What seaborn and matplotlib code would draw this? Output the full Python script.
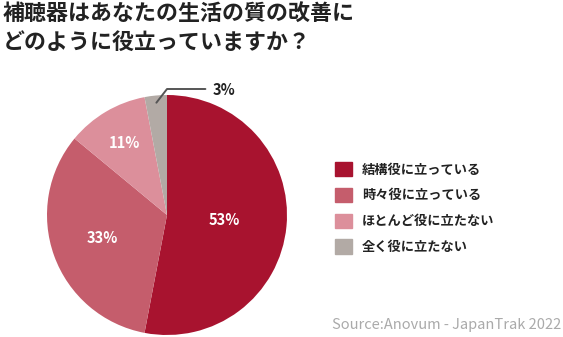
import numpy as np
import matplotlib
matplotlib.use("Agg")
import matplotlib.pyplot as plt
import seaborn as sns

# Data
categories = ["結構役に立っている", "時々役に立っている", "ほとんど役に立たない", "全く役に立たない"]
values = [53, 33, 11, 3]
pct_labels = ["53%", "33%", "11%", "3%"]
colors_hex = ["#A8132F", "#C55D6C", "#DC8F9B", "#B2AAA5"]
title = "補聴器はあなたの生活の質の改善に\nどのように役立っていますか？"
source = "Source:Anovum - JapanTrak 2022"

sns.set_theme(style="white")
plt.rcParams['font.family'] = ['Noto Sans CJK JP', 'DejaVu Sans']

palette = sns.color_palette(colors_hex)

W, H = 563, 337
fig = plt.figure(figsize=(W / 100, H / 100), dpi=100)
fig.patch.set_facecolor("white")

cx, cy, R = 167, 215, 120
ax = fig.add_axes([(cx - R) / W, (H - cy - R) / H, 2 * R / W, 2 * R / H])
wedges, _ = ax.pie(values, colors=palette, startangle=90, counterclock=False,
                   radius=1, wedgeprops=dict(linewidth=0))
ax.set_xlim(-1, 1)
ax.set_ylim(-1, 1)
ax.set_aspect("equal")
ax.axis("off")

# labels inside wedges
label_r = [0.48, 0.57, 0.70]
for i, w in enumerate(wedges[:3]):
    ang = np.deg2rad((w.theta1 + w.theta2) / 2)
    ax.text(label_r[i] * np.cos(ang), label_r[i] * np.sin(ang), pct_labels[i],
            ha="center", va="center", color="white", fontsize=10.5, fontweight="bold")

# small slice with leader line
w = wedges[3]
ang = np.deg2rad((w.theta1 + w.theta2) / 2)
p0 = (0.94 * np.cos(ang), 0.94 * np.sin(ang))
p1 = (0.0, 1.05)
p2 = (0.32, 1.05)
ax.plot([p0[0], p1[0], p2[0]], [p0[1], p1[1], p2[1]], color="#555555", lw=1.4,
        clip_on=False)
ax.text(0.38, 1.045, pct_labels[3], ha="left", va="center", color="#222222",
        fontsize=10.5, fontweight="bold", clip_on=False)

# title
fig.text(3 / W, 1 - 3 / H, title, ha="left", va="top", fontsize=15.8,
         fontweight="bold", color="#222222", linespacing=1.3)

# legend
handles = [plt.Rectangle((0, 0), 1, 1, color=c) for c in palette]
leg = fig.legend(handles, categories, loc="upper left",
                 bbox_to_anchor=(323 / W, 1 - 150 / H), frameon=False,
                 prop=dict(size=9.5, weight="bold"), handlelength=1.3,
                 handleheight=1.3, labelspacing=0.85, handletextpad=0.75)
for t in leg.get_texts():
    t.set_color("#222222")

fig.text(561 / W, 1 - 325 / H, source, ha="right", va="center", fontsize=10.5,
         color="#AAAAAA")

fig.savefig("out.png", dpi=100, facecolor="white")
